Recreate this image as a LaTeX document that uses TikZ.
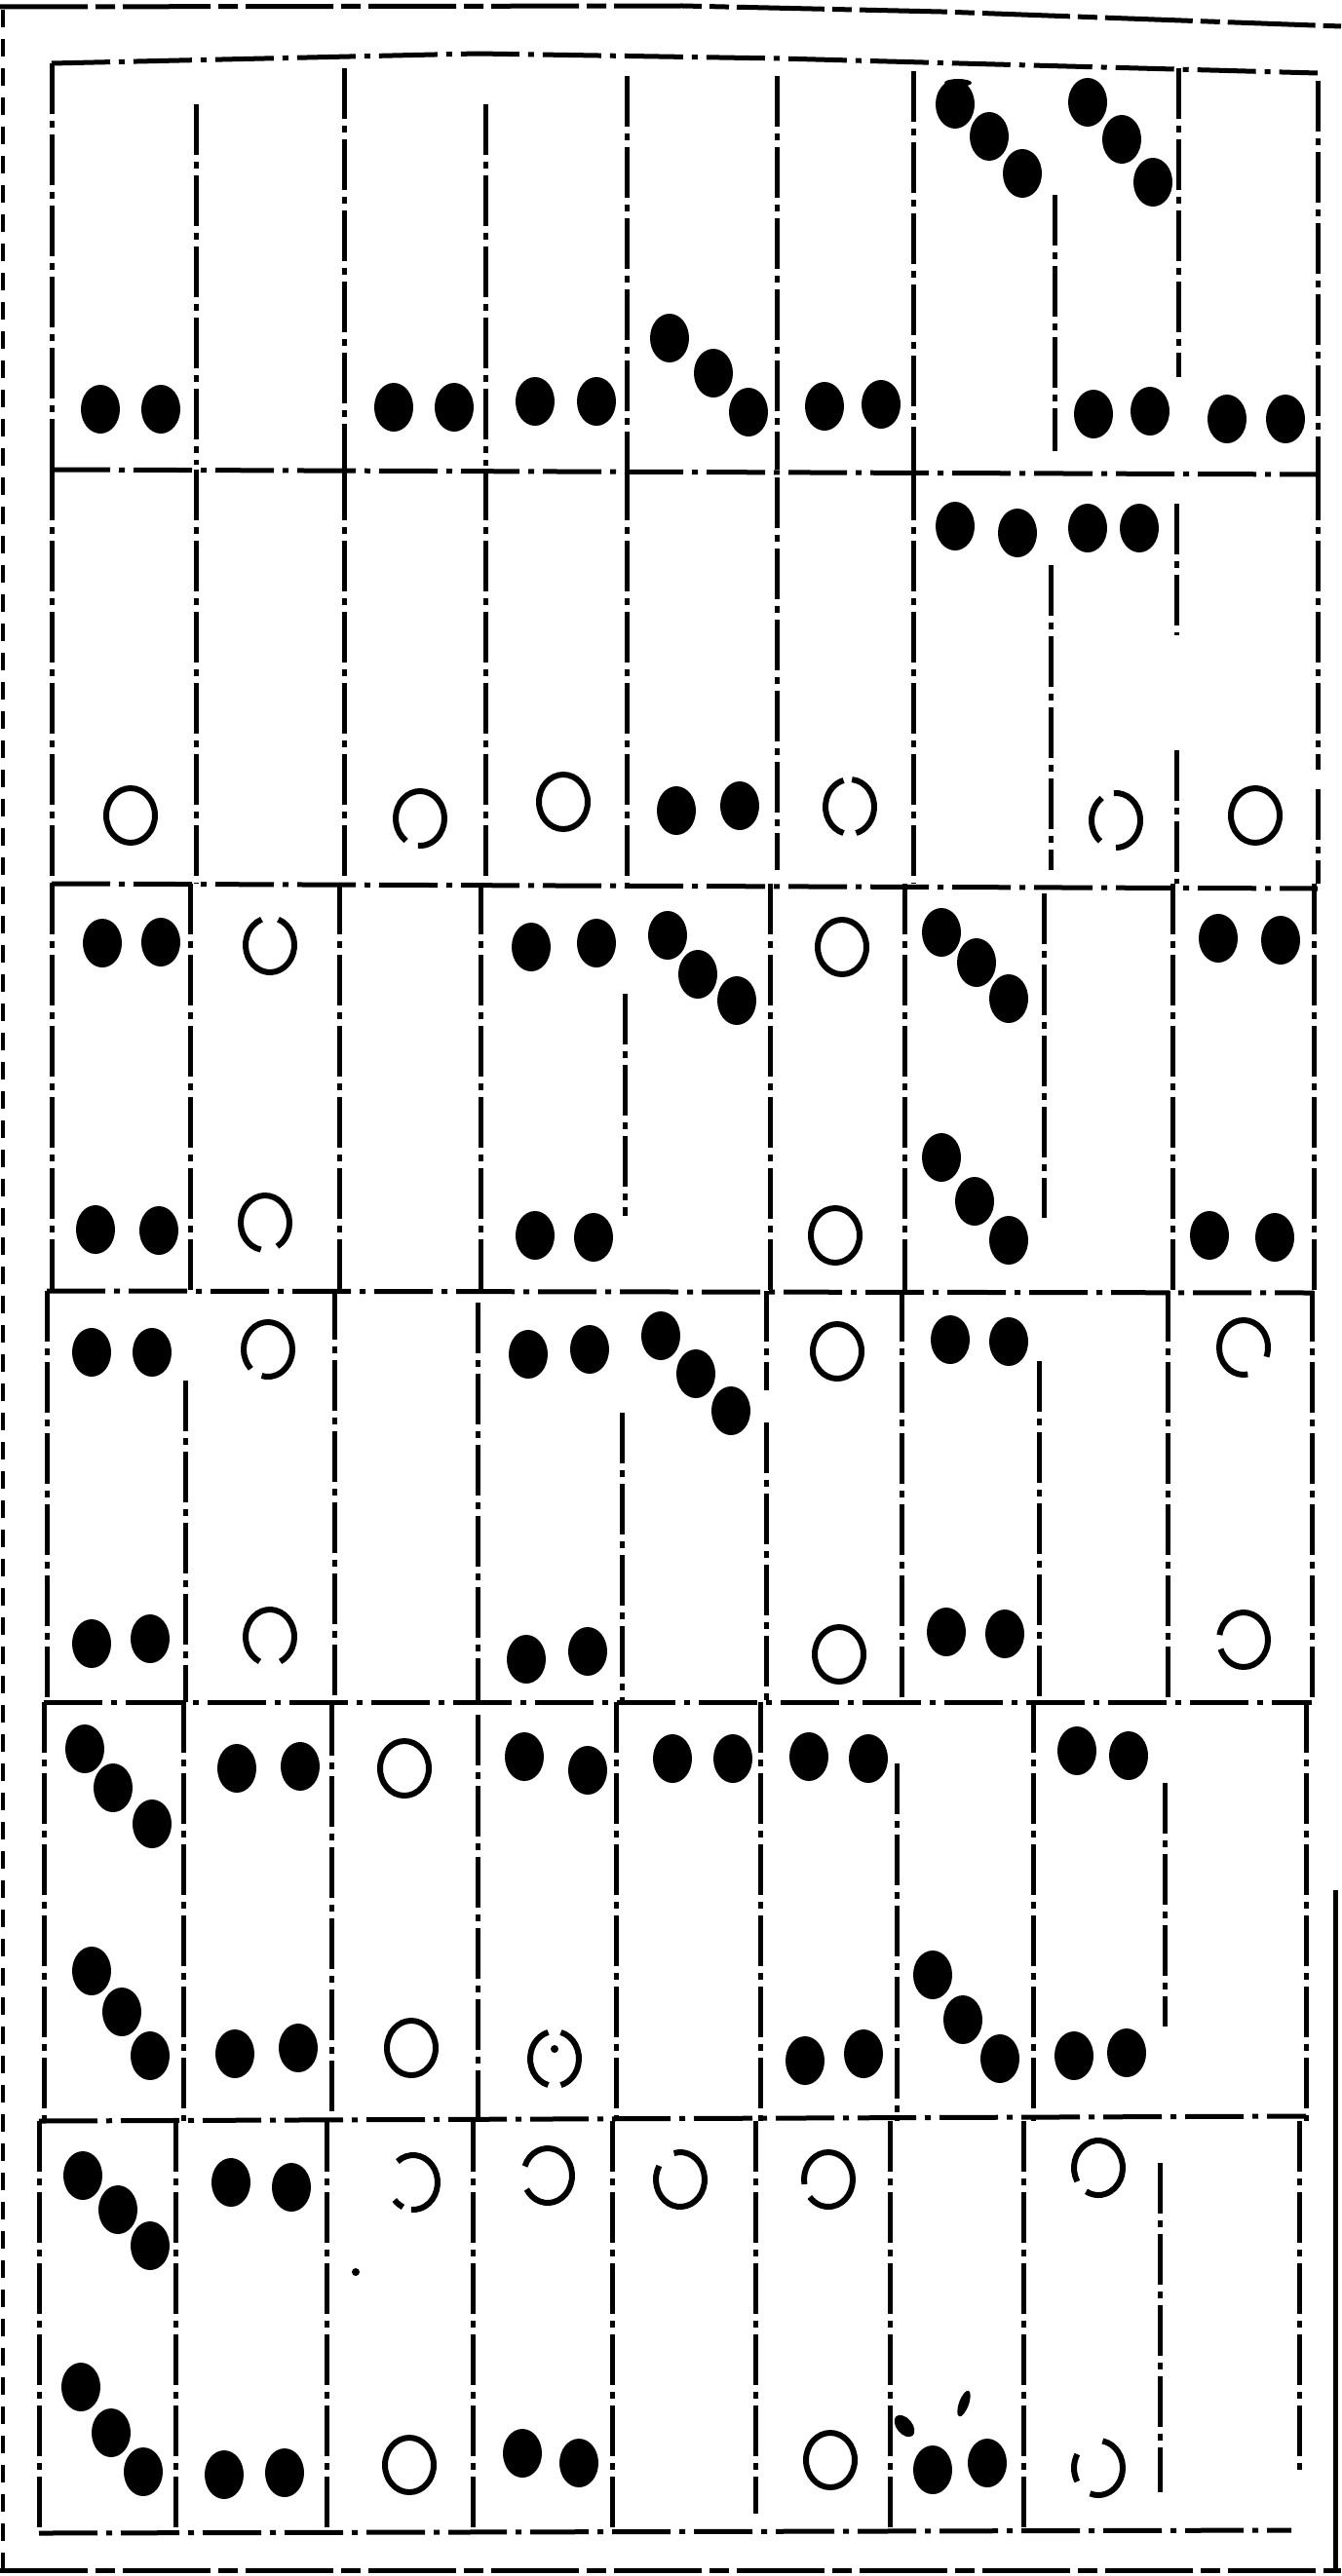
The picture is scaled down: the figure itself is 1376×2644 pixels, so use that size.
\documentclass[tikz,border=0pt]{standalone}
\begin{document}
\begin{tikzpicture}[x=1pt,y=-1pt,
  gl/.style={line width=5pt, dash pattern=on 52pt off 7pt on 7pt off 7pt},
  hl/.style={line width=5pt, dash pattern=on 60pt off 9pt on 6pt off 9pt},
  ol/.style={line width=4pt, dash pattern=on 18pt off 12pt},
  frame/.style={line width=5pt, dash pattern=on 90pt off 8pt on 20pt off 8pt},
  ring/.style={line width=6pt}]
\useasboundingbox (0,0) rectangle (1376,2644);
% outer frame
\draw[frame] (0,7) -- (700,6) -- (966,12) -- (1376,27);
\draw[ol] (3,10) -- (3,2640);
\draw[frame] (0,2638) -- (1376,2638);
\draw[line width=5pt] (1370,1940) -- (1370,2638);
% inner frame top and row lines
\draw[hl] (53,65) -- (490,55) -- (800,60) -- (1352,75);
\draw[hl] (53,482) -- (1352,487);
\draw[hl] (53,907) -- (1352,912);
\draw[hl] (48,1325) -- (1348,1327);
\draw[hl] (45,1747) -- (1346,1747);
\draw[hl] (40,2177) -- (1340,2172);
\draw[hl] (40,2600) -- (1325,2597);
% vertical lines
\foreach \x/\a/\b in {
 53/65/482, 201/107/477, 353/70/482, 498/107/478, 643/78/482, 797/78/482, 937/73/482, 1082/200/463, 1209/70/387, 1352/83/482,
 53/482/907, 201/482/907, 353/482/907, 498/482/907, 643/482/907, 797/490/893, 937/482/907, 1078/580/893, 1207/517/652, 1207/770/907, 1352/482/790, 1352/810/907,
 53/907/1325, 195/907/1325, 348/907/1325, 493/907/1325, 641/1020/1248, 790/907/1325, 928/907/1325, 1071/917/1250, 1203/907/1325, 1348/907/1325,
 48/1325/1747, 190/1417/1747, 343/1323/1747, 490/1337/1747, 638/1450/1747, 786/1325/1427, 786/1460/1747, 925/1325/1747, 1066/1397/1747, 1198/1325/1747, 1346/1325/1747,
 45/1747/2177, 188/1747/2177, 340/1750/2172, 490/1760/2177, 632/1747/2177, 780/1747/2177, 920/1810/2177, 1060/1747/2177, 1195/1830/2080, 1340/1747/2177,
 40/2177/2600, 180/2177/2600, 335/2177/2600, 485/2177/2600, 628/2177/2600, 775/2177/2580, 913/2177/2600, 1050/2177/2600, 1190/2220/2558, 1333/2177/2540}
 \draw[gl] (\x,\a) -- (\x,\b);
% filled dots
\foreach \x/\y in {
 103/420, 165/420, 404/418, 466/418, 549/412, 612/412, 687/347, 732/383, 768/423, 846/417, 904/415, 980/107, 1015/140, 1049/178, 1116/105, 1151/143, 1183/187, 1122/425, 1180/422, 1259/430, 1319/430,
 694/832, 759/827, 980/540, 1044/547, 1116/542, 1169/542,
 105/968, 165/967, 98/1262, 163/1263, 545/972, 612/968, 549/1268, 609/1270, 685/960, 716/1000, 756/1027, 966/957, 1002/988, 1035/1025, 966/1188, 1000/1233, 1035/1273, 1250/963, 1314/965, 1241/1268, 1308/1270,
 94/1388, 156/1388, 94/1687, 154/1682, 542/1390, 605/1385, 540/1703, 603/1695, 678/1371, 714/1410, 750/1448, 975/1375, 1035/1377, 971/1675, 1031/1677,
 87/1795, 116/1835, 156/1872, 94/2023, 125/2065, 154/2110, 243/1815, 308/1813, 241/2108, 306/2102, 538/1803, 603/1817, 690/1805, 752/1805, 830/1803, 891/1805, 826/2115, 886/2108, 957/2027, 988/2073, 1026/2113, 1105/1797, 1158/1802, 1102/2110, 1156/2107,
 85/2233, 121/2268, 154/2305, 83/2450, 114/2497, 147/2537, 237/2240, 299/2245, 230/2540, 292/2538, 536/2518, 594/2528, 957/2535, 1013/2528}
 \fill (\x,\y) ellipse [x radius=20, y radius=25];
% small marks
\fill (983,85) ellipse [x radius=14, y radius=4];
\fill (569,2103) circle [radius=4];
\fill (365,2332) circle [radius=4];
\fill[rotate around={40:(928,2490)}] (928,2490) ellipse [x radius=8, y radius=13];
\fill[rotate around={-20:(989,2467)}] (989,2467) ellipse [x radius=5, y radius=14];
% open circles
\foreach \x/\y in {134/837, 578/823, 1288/837, 864/972, 857/1268, 859/1387, 861/1698, 415/1815, 422/2102, 420/2530, 852/2525}
 \draw[ring] (\x,\y) ellipse [x radius=25, y radius=28];
% broken circles
\foreach \x/\y/\a/\b in {431/840/125/455, 872/828/-85/75, 872/828/105/255, 1145/842/265/450, 1145/842/130/235,
 277/970/-70/250, 272/1255/100/420, 277/1680/115/425, 275/1385/135/465, 1276/1383/80/380, 1276/1683/190/520,
 569/2113/-75/75, 569/2113/105/255, 424/2240/-130/95, 424/2240/115/140, 562/2233/200/510, 698/2237/255/570,
 850/2237/170/500, 1127/2225/150/480, 1127/2533/-80/110, 1127/2533/150/210}
 \draw[ring] ([shift={(\a:25 and 28)}]\x,\y) arc[start angle=\a, end angle=\b, x radius=25, y radius=28];
\end{tikzpicture}
\end{document}
